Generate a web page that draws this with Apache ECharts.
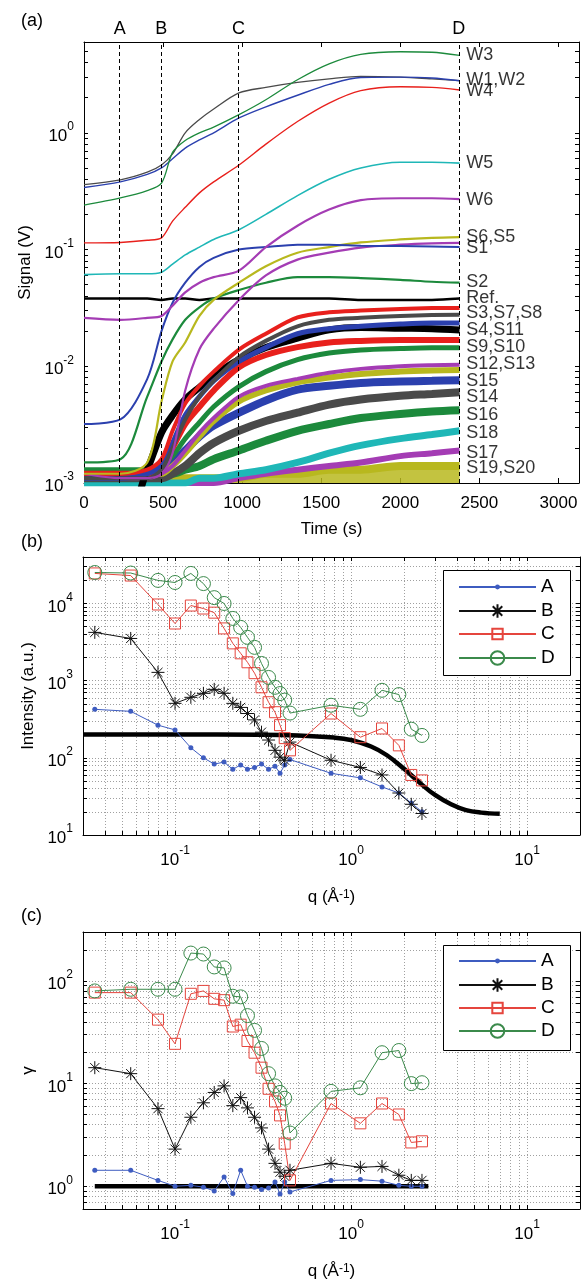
<!DOCTYPE html>
<html>
<head>
<meta charset="utf-8">
<script src="https://cdn.jsdelivr.net/npm/echarts@6/dist/echarts.min.js"></script>
<style>
  html, body { margin: 0; padding: 0; background: #fff; }
  #main { width: 582px; height: 1283px; }
</style>
</head>
<body>
<div id="main"></div>
<script>
const FONT = '"Liberation Sans", Arial, sans-serif'

// ---- panel (a): signal vs time ----
const times = [0, 230, 400, 490, 560, 640, 730, 820, 980, 1150, 1350, 1550, 1750, 2000, 2200, 2375]
const W3 = [0.24, 0.277, 0.32, 0.37, 0.68, 0.86, 1.0, 1.12, 1.43, 1.92, 2.85, 3.9, 4.7, 4.95, 4.9, 4.6]
const W1 = [0.36, 0.395, 0.46, 0.53, 0.66, 1.0, 1.3, 1.6, 2.2, 2.45, 2.7, 2.9, 3.05, 3.0, 2.9, 2.8]
const W2 = [0.34, 0.38, 0.44, 0.5, 0.6, 0.74, 0.87, 1.0, 1.34, 1.67, 2.1, 2.6, 2.98, 3.0, 2.95, 2.79]
const W4 = [0.114, 0.115, 0.12, 0.126, 0.175, 0.23, 0.306, 0.38, 0.53, 0.8, 1.25, 1.8, 2.3, 2.48, 2.45, 2.33]
const W5 = [0.061, 0.062, 0.062, 0.064, 0.075, 0.09, 0.105, 0.122, 0.148, 0.2, 0.29, 0.4, 0.5, 0.56, 0.56, 0.55]
const W6 = [0.026, 0.025, 0.026, 0.027, 0.033, 0.043, 0.052, 0.058, 0.066, 0.105, 0.16, 0.22, 0.265, 0.275, 0.275, 0.27]
const S6 = [0.0012, 0.0012, 0.0015, 0.005, 0.011, 0.016, 0.027, 0.037, 0.052, 0.072, 0.094, 0.105, 0.115, 0.122, 0.126, 0.128]
const S5 = [0.0012, 0.0011, 0.0011, 0.0012, 0.0018, 0.0062, 0.014, 0.021, 0.037, 0.06, 0.082, 0.094, 0.104, 0.11, 0.113, 0.114]
const S1 = [0.0032, 0.0035, 0.0078, 0.02, 0.035, 0.052, 0.071, 0.085, 0.1, 0.105, 0.11, 0.11, 0.108, 0.107, 0.106, 0.105]
const S2 = [0.0015, 0.0016, 0.0055, 0.011, 0.017, 0.025, 0.032, 0.038, 0.045, 0.052, 0.058, 0.058, 0.057, 0.055, 0.053, 0.052]
const REF = [0.038, 0.038, 0.038, 0.037, 0.038, 0.038, 0.037, 0.038, 0.038, 0.038, 0.038, 0.038, 0.037, 0.037, 0.037, 0.038]
const S3 = [0.0012, 0.0012, 0.0013, 0.0016, 0.0028, 0.0048, 0.0068, 0.009, 0.0139, 0.019, 0.0262, 0.029, 0.03, 0.031, 0.0315, 0.0316]
const S7 = [0.0011, 0.0011, 0.0011, 0.0013, 0.002, 0.0035, 0.0055, 0.0075, 0.012, 0.0165, 0.022, 0.025, 0.026, 0.027, 0.0275, 0.0276]
const S4 = [0.0011, 0.0011, 0.0012, 0.0014, 0.0022, 0.0038, 0.0055, 0.0075, 0.011, 0.0145, 0.019, 0.021, 0.022, 0.023, 0.0235, 0.0235]
const S11 = [0.0004, 0.0004, 0.0013, 0.0027, 0.0038, 0.0052, 0.0066, 0.0083, 0.0114, 0.0145, 0.0174, 0.0205, 0.0215, 0.0212, 0.021, 0.0205]
const S9 = [0.0012, 0.0012, 0.0012, 0.0014, 0.002, 0.0032, 0.0045, 0.0062, 0.0098, 0.0125, 0.0146, 0.016, 0.0165, 0.0168, 0.0168, 0.0168]
const S10 = [0.0013, 0.0013, 0.0013, 0.0014, 0.0017, 0.0024, 0.0033, 0.0045, 0.0067, 0.009, 0.0114, 0.013, 0.0138, 0.0142, 0.0144, 0.0144]
const S12 = [0.0011, 0.0011, 0.0011, 0.0012, 0.0014, 0.0019, 0.0027, 0.0036, 0.0055, 0.0068, 0.0078, 0.0088, 0.0095, 0.01, 0.0102, 0.0103]
const S13 = [0.0012, 0.0012, 0.0012, 0.0012, 0.0014, 0.0018, 0.0025, 0.0034, 0.005, 0.0062, 0.0073, 0.008, 0.0086, 0.009, 0.0092, 0.0093]
const S15 = [0.0012, 0.0012, 0.0012, 0.0013, 0.0015, 0.0019, 0.0025, 0.0031, 0.004, 0.0051, 0.0063, 0.0068, 0.0072, 0.0074, 0.0075, 0.0076]
const S14 = [0.0011, 0.0011, 0.0011, 0.0011, 0.0012, 0.0014, 0.0018, 0.0022, 0.0028, 0.0034, 0.004, 0.0047, 0.0052, 0.0056, 0.0058, 0.006]
const S16 = [0.0012, 0.0012, 0.0012, 0.0012, 0.0012, 0.0013, 0.0014, 0.0016, 0.0019, 0.0023, 0.0028, 0.0032, 0.0036, 0.0039, 0.0041, 0.0042]
const S18 = [0.001, 0.001, 0.001, 0.001, 0.001, 0.001, 0.0011, 0.0011, 0.0012, 0.0013, 0.0015, 0.0018, 0.0021, 0.0024, 0.0026, 0.0028]
const S17 = [0.001, 0.001, 0.001, 0.001, 0.001, 0.001, 0.001, 0.001, 0.0011, 0.0012, 0.0013, 0.0014, 0.0015, 0.0017, 0.0018, 0.0019]
const S19 = [0.0011, 0.0011, 0.0011, 0.0011, 0.0011, 0.0011, 0.0011, 0.0011, 0.0011, 0.0012, 0.0012, 0.0013, 0.0013, 0.0014, 0.0014, 0.0014]

const traceLabels = ['W3', 'W1,W2', 'W4', 'W5', 'W6', 'S6,S5', 'S1', 'S2', 'Ref.', 'S3,S7,S8', 'S4,S11',
  'S9,S10', 'S12,S13', 'S15', 'S14', 'S16', 'S18', 'S17', 'S19,S20']
const traceLabelY = [4.66, 2.85, 2.29, 0.553, 0.266, 0.128, 0.103, 0.053, 0.0385, 0.0288, 0.0205,
  0.0147, 0.0105, 0.0075, 0.0054, 0.0038, 0.0027, 0.0018, 0.00135]
const markTimes = [226, 489, 977, 2370]
const markNames = ['A', 'B', 'C', 'D']

// ---- panels (b) and (c): q scans ----
const qValues = [0.035, 0.056, 0.08, 0.1, 0.123, 0.145, 0.167, 0.19, 0.213, 0.236, 0.258, 0.283,
  0.31, 0.34, 0.37, 0.395, 0.42, 0.45, 0.77, 1.13, 1.5, 1.87, 2.2, 2.53]
const intA = [425, 400, 265, 230, 135, 100, 83, 88, 71, 81, 71, 75, 83, 71, 78, 63, 81, 95, 63, 55, 42, 35, 26, 20]
const intB = [4220, 3520, 1280, 508, 608, 685, 771, 685, 508, 450, 375, 310, 215, 170, 125, 102, 93, 160, 93, 75, 60, 35, 25, 19]
const intC = [24500, 23000, 9700, 5500, 9400, 8600, 7600, 4750, 3040, 2260, 1730, 1250, 820, 525, 390, 265, 180, 125, 375, 185, 240, 145, 60, 51]
const intD = [25200, 24800, 19900, 18700, 24500, 18100, 11900, 10000, 6400, 4900, 3640, 2700, 1670, 1100, 820, 680, 560, 380, 480, 425, 750, 660, 235, 195]
const fitQ = [0.03, 0.1, 0.3, 0.5, 0.8, 1.0, 1.3, 1.6, 2.0, 2.5, 3.0, 3.7, 4.5, 5.5, 7.0]
const fitI = [200, 200, 199, 195, 183, 170, 140, 108, 72, 46, 33, 25, 21, 19.5, 18.8]

const gamA = [1.43, 1.43, 1.14, 1.0, 1.02, 0.98, 0.9, 1.23, 0.85, 1.43, 1.0, 0.98, 0.93, 0.96, 1.1, 0.84, 1.1, 0.88, 1.14, 1.16, 1.12, 1.02, 1.0, 1.0]
const gamB = [14.3, 12.5, 5.7, 2.3, 4.7, 6.5, 8.2, 9.5, 6.1, 7.3, 5.8, 4.7, 3.7, 2.3, 1.67, 1.37, 1.25, 1.43, 1.67, 1.53, 1.56, 1.28, 1.14, 1.14]
const gamC = [77, 77, 42, 24.4, 75, 80, 67, 65, 36, 37.5, 26, 20, 14.3, 8.9, 6.7, 4.9, 2.6, 1.14, 6.4, 4.1, 6.4, 5.0, 2.67, 2.74]
const gamD = [80, 83, 83, 83, 187, 183, 137, 134, 71, 70, 46, 33, 22, 12.5, 9.5, 8.2, 7.2, 3.3, 8.4, 9.1, 20, 21, 10, 10.2]
const refQ = [0.035, 2.75]
const refGam = [1, 1]

// ---- helpers ----
function logTicks(lo, hi) {
  const out = []
  for (let k = -4; k <= 5; k++) {
    for (let m = 1; m <= 9; m++) {
      const v = +(m * Math.pow(10, k)).toPrecision(3)
      if (v >= lo * 0.999 && v <= hi * 1.001) out.push(v)
    }
  }
  return out
}
const supFmt = v => '{b|10}{e|' + Math.round(Math.log10(v)) + '}'
const supRich = {
  b: { fontSize: 17, fontFamily: FONT, color: '#000', lineHeight: 24, verticalAlign: 'bottom' },
  e: { fontSize: 12, fontFamily: FONT, color: '#000', lineHeight: 12, verticalAlign: 'top' }
}
const nameRich = {
  e: { fontSize: 12, fontFamily: FONT, color: '#000', lineHeight: 12, verticalAlign: 'top' }
}
const black = { color: '#000', width: 1 }

function logAxis(grid, lo, hi, labels, pos, extra) {
  return Object.assign({
    gridIndex: grid, type: 'log', logBase: 10, min: lo, max: hi, position: pos,
    axisLine: { show: true, onZero: false, lineStyle: black },
    axisTick: { show: true, inside: true, length: 4, customValues: logTicks(lo, hi), lineStyle: black },
    axisLabel: labels ? {
      show: true, customValues: labels, formatter: supFmt, rich: supRich,
      fontSize: 17, color: '#000', fontFamily: FONT, margin: 10
    } : { show: false },
    splitLine: { show: false }
  }, extra || {})
}
const gridLine = { show: true, lineStyle: { color: '#a0a0a0', type: [1, 2], width: 1 } }

function trace(name, vals, color, width, extra) {
  return Object.assign({
    name, type: 'line', xAxisIndex: 0, yAxisIndex: 0,
    data: times.map((t, i) => [t, vals[i]]),
    showSymbol: false, symbol: 'none', smooth: 0.3, clip: true, silent: true,
    lineStyle: { color, width }
  }, extra || {})
}

const ASTER = 'path://M5,0L5,10M0,5L10,5M1.5,1.5L8.5,8.5M1.5,8.5L8.5,1.5'
const qStyles = {
  A: { color: '#3e5cc0', symbol: 'circle', size: 5, hollow: false, legendH: 6 },
  B: { color: '#111111', symbol: ASTER, size: 13, hollow: true, legendH: 17 },
  C: { color: '#e5453d', symbol: 'rect', size: 11, hollow: true, legendH: 13 },
  D: { color: '#3b8a4b', symbol: 'circle', size: 14, hollow: true, legendH: 17 }
}
function qSeries(name, vals, panel) {
  const s = qStyles[name]
  return {
    name, type: 'line', xAxisIndex: panel, yAxisIndex: panel,
    data: qValues.map((q, i) => [q, vals[i]]),
    symbol: s.symbol, symbolSize: s.size, showSymbol: true, silent: true, z: 5,
    lineStyle: { color: s.color, width: 1 },
    itemStyle: s.hollow
      ? { color: 'rgba(0,0,0,0)', borderColor: s.color, borderWidth: 1 }
      : { color: s.color, borderColor: s.color, borderWidth: 0 }
  }
}

const colors = {
  green: '#1c8a3c', gray: '#4a4a4a', blue: '#2b40ae', red: '#e8201c',
  cyan: '#1fb7b7', magenta: '#a43cb4', yellow: '#b8b81e', black: '#000000'
}

// one legend per entry so each keeps its own marker size
const legendRows = { b: [577, 601, 624, 648], c: [951, 975, 998, 1021] }
function legendItems(rows) {
  return markNames.map((n, i) => ({
    data: [n], orient: 'vertical', left: 458, top: rows[i], padding: 0,
    itemWidth: 77, itemHeight: qStyles[n].legendH, selectedMode: false,
    textStyle: { fontSize: 19, color: '#000', fontFamily: FONT, lineHeight: 20 }
  }))
}
const legendBox = top => ({
  type: 'rect', left: 443, top, silent: true, z: 10,
  shape: { width: 127, height: 105 },
  style: { fill: '#fff', stroke: '#000', lineWidth: 1 }
})

const titleStyle = { fontSize: 18, fontWeight: 'normal', color: '#000', fontFamily: FONT }

const option = {
  animation: false,
  backgroundColor: '#fff',
  textStyle: { fontFamily: FONT },
  title: [
    { text: '(a)', left: 16, top: 7, textStyle: titleStyle },
    { text: '(b)', left: 16, top: 528, textStyle: titleStyle },
    { text: '(c)', left: 16, top: 902, textStyle: titleStyle }
  ],
  graphic: [legendBox(570), legendBox(945)],
  grid: [
    { left: 84, top: 42, width: 496, height: 441 },
    { left: 83, top: 557, width: 497, height: 278 },
    { left: 83, top: 932, width: 497, height: 277 }
  ],
  legend: legendItems(legendRows.b).concat(legendItems(legendRows.c)).map(l => Object.assign(l, { z: 20 })),
  xAxis: [
    {
      gridIndex: 0, type: 'value', min: 0, max: 3130, interval: 500, position: 'bottom',
      axisLine: { onZero: false, lineStyle: black },
      axisTick: { inside: true, length: 5, lineStyle: black },
      splitLine: { show: false },
      axisLabel: { formatter: v => (v % 500 === 0 ? String(v) : ''), fontSize: 17, color: '#000', fontFamily: FONT, margin: 12 },
      name: 'Time (s)', nameLocation: 'middle', nameGap: 38,
      nameTextStyle: { fontSize: 17, color: '#000', fontFamily: FONT }
    },
    {
      gridIndex: 0, type: 'value', min: 0, max: 3130, interval: 500, position: 'top',
      axisLine: { onZero: false, lineStyle: black },
      axisTick: { inside: true, length: 5, lineStyle: black },
      splitLine: { show: false }, axisLabel: { show: false }
    },
    logAxis(1, 0.03, 20, [0.1, 1, 10], 'bottom', {
      splitLine: gridLine,
      name: 'q (Å{e|-1})', nameLocation: 'middle', nameGap: 54,
      nameTextStyle: { fontSize: 17, color: '#000', fontFamily: FONT, rich: nameRich }
    }),
    logAxis(1, 0.03, 20, null, 'top'),
    logAxis(2, 0.03, 20, [0.1, 1, 10], 'bottom', {
      splitLine: gridLine,
      name: 'q (Å{e|-1})', nameLocation: 'middle', nameGap: 54,
      nameTextStyle: { fontSize: 17, color: '#000', fontFamily: FONT, rich: nameRich }
    }),
    logAxis(2, 0.03, 20, null, 'top')
  ],
  yAxis: [
    logAxis(0, 0.001, 6, [0.001, 0.01, 0.1, 1], 'left', {
      name: 'Signal (V)', nameLocation: 'middle', nameGap: 46, nameRotate: 90,
      nameTextStyle: { fontSize: 17, color: '#000', fontFamily: FONT }
    }),
    logAxis(0, 0.001, 6, null, 'right'),
    logAxis(1, 10, 40000, [10, 100, 1000, 10000], 'left', {
      splitLine: gridLine,
      name: 'Intensity (a.u.)', nameLocation: 'middle', nameGap: 46, nameRotate: 90,
      nameTextStyle: { fontSize: 17, color: '#000', fontFamily: FONT }
    }),
    logAxis(1, 10, 40000, null, 'right'),
    logAxis(2, 0.6, 300, [1, 10, 100], 'left', {
      splitLine: gridLine,
      name: 'γ', nameLocation: 'middle', nameGap: 46, nameRotate: 90,
      nameTextStyle: { fontSize: 17, color: '#000', fontFamily: FONT }
    }),
    logAxis(2, 0.6, 300, null, 'right')
  ],
  series: [
    // panel (a), drawn from the noisy bottom traces upward
    trace('S19,S20', S19, colors.yellow, 8, { areaStyle: { color: colors.yellow, opacity: 0.85, origin: 'start' } }),
    trace('S17', S17, colors.magenta, 6),
    trace('S18', S18, colors.cyan, 7),
    trace('S16', S16, colors.green, 8),
    trace('S14', S14, colors.gray, 8),
    trace('S15', S15, colors.blue, 8),
    trace('S13', S13, colors.yellow, 6),
    trace('S12', S12, colors.magenta, 4),
    trace('S10', S10, colors.green, 5),
    trace('S9', S9, colors.red, 6),
    trace('S11', S11, colors.black, 7),
    trace('S4', S4, colors.blue, 5),
    trace('S7,S8', S7, colors.gray, 4),
    trace('S3', S3, colors.red, 4),
    trace('Ref.', REF, colors.black, 2.5, {
      markLine: {
        silent: true, symbol: ['none', 'none'],
        lineStyle: { type: [4, 3], color: '#000', width: 1 },
        label: { show: true, position: 'end', formatter: '{b}', fontSize: 18, color: '#000', fontFamily: FONT, distance: 4 },
        data: markTimes.map((t, i) => ({ xAxis: t, name: markNames[i] }))
      }
    }),
    trace('S2', S2, colors.green, 2.2),
    trace('S5', S5, colors.magenta, 2.2),
    trace('S6', S6, colors.yellow, 2.2),
    trace('S1', S1, colors.blue, 2),
    trace('W6', W6, colors.magenta, 2.2),
    trace('W5', W5, colors.cyan, 1.6),
    trace('W4', W4, colors.red, 1.4),
    trace('W1', W1, colors.gray, 1.3),
    trace('W2', W2, colors.blue, 1.4),
    trace('W3', W3, colors.green, 1.3),
    {
      name: 'labels', type: 'scatter', xAxisIndex: 0, yAxisIndex: 0, silent: true,
      symbolSize: 0, data: traceLabelY.map(v => [2398, v]),
      label: {
        show: true, position: 'right', distance: 3, fontSize: 18, color: '#000', fontFamily: FONT,
        formatter: p => traceLabels[p.dataIndex]
      }
    },
    // panel (b)
    {
      name: 'fit', type: 'line', xAxisIndex: 2, yAxisIndex: 2, silent: true, z: 3,
      data: fitQ.map((q, i) => [q, fitI[i]]), smooth: 0.4, showSymbol: false, symbol: 'none',
      lineStyle: { color: '#000', width: 4.5 }
    },
    qSeries('A', intA, 2), qSeries('B', intB, 2), qSeries('C', intC, 2), qSeries('D', intD, 2),
    // panel (c)
    {
      name: 'ref', type: 'line', xAxisIndex: 4, yAxisIndex: 4, silent: true, z: 3,
      data: refQ.map((q, i) => [q, refGam[i]]), showSymbol: false, symbol: 'none',
      lineStyle: { color: '#000', width: 4.5 }
    },
    qSeries('A', gamA, 4), qSeries('B', gamB, 4), qSeries('C', gamC, 4), qSeries('D', gamD, 4)
  ]
}

const chart = echarts.init(document.getElementById('main'))
chart.setOption(option)
window.addEventListener('resize', () => chart.resize())
</script>
</body>
</html>
